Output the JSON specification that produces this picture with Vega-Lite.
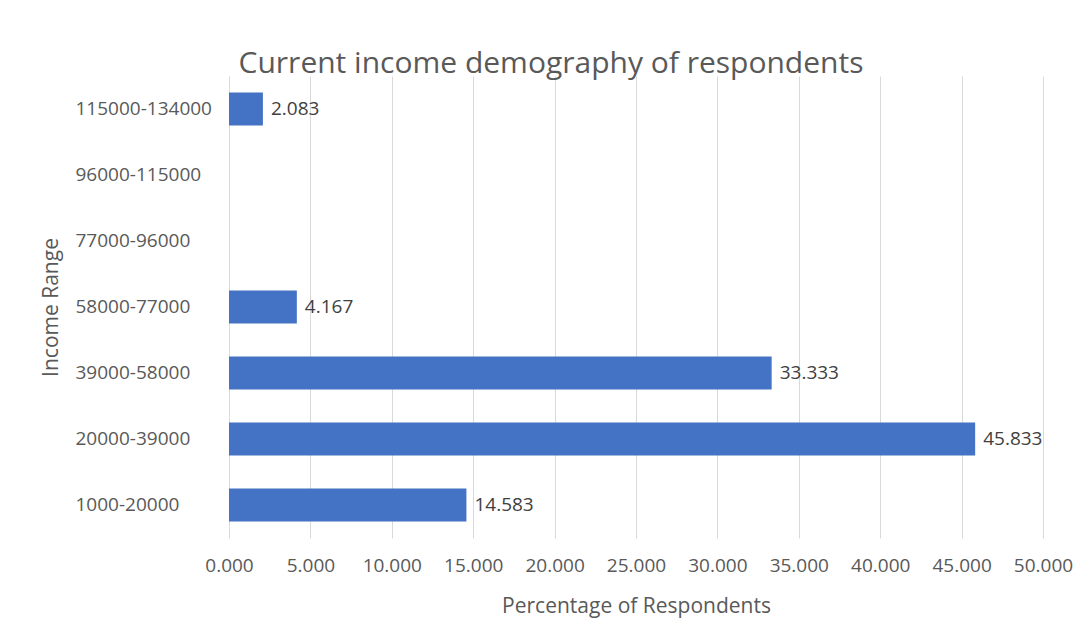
{
  "$schema": "https://vega.github.io/schema/vega-lite/v6.json",
  "autosize": {"type": "none"},
  "padding": {"left": 229, "top": 76, "right": 45, "bottom": 99},
  "width": 814,
  "height": 462,
  "background": "white",
  "title": {
    "text": "Current income demography of respondents",
    "font": "Open Sans",
    "fontSize": 30,
    "fontWeight": "normal",
    "color": "#595959",
    "anchor": "middle",
    "dx": -85,
    "offset": -3
  },
  "data": {
    "values": [
      {"range": "115000-134000", "pct": 2.083},
      {"range": "96000-115000", "pct": 0},
      {"range": "77000-96000", "pct": 0},
      {"range": "58000-77000", "pct": 4.167},
      {"range": "39000-58000", "pct": 33.333},
      {"range": "20000-39000", "pct": 45.833},
      {"range": "1000-20000", "pct": 14.583}
    ]
  },
  "encoding": {
    "y": {
      "field": "range",
      "type": "nominal",
      "sort": ["115000-134000", "96000-115000", "77000-96000", "58000-77000", "39000-58000", "20000-39000", "1000-20000"],
      "scale": {"paddingInner": 0.5, "paddingOuter": 0.25},
      "axis": {
        "title": "Income Range",
        "titleFont": "Open Sans",
        "titleFontSize": 21,
        "titleFontWeight": "normal",
        "titleColor": "#595959",
        "titlePadding": 14,
        "labelFont": "Open Sans",
        "labelFontSize": 19,
        "labelColor": "#595959",
        "labelAlign": "left",
        "labelPadding": 154,
        "ticks": false,
        "domain": false,
        "grid": false
      }
    },
    "x": {
      "field": "pct",
      "type": "quantitative",
      "scale": {"domain": [0, 50]},
      "axis": {
        "title": "Percentage of Respondents",
        "values": [0, 5, 10, 15, 20, 25, 30, 35, 40, 45, 50],
        "format": ".3f",
        "titleFont": "Open Sans",
        "titleFontSize": 21,
        "titleFontWeight": "normal",
        "titleColor": "#595959",
        "titlePadding": 20,
        "labelFont": "Open Sans",
        "labelFontSize": 19,
        "labelColor": "#595959",
        "labelPadding": 18,
        "labelFlush": false,
        "labelOverlap": false,
        "ticks": false,
        "domain": false,
        "grid": true,
        "gridColor": "#d9d9d9",
        "gridWidth": 1
      }
    }
  },
  "layer": [
    {"mark": {"type": "bar", "color": "#4472C4"}},
    {
      "transform": [{"filter": "datum.pct > 0"}],
      "mark": {"type": "text", "align": "left", "dx": 8, "font": "Open Sans", "fontSize": 19, "color": "#404040"},
      "encoding": {"text": {"field": "pct", "type": "quantitative", "format": ".3f"}}
    }
  ],
  "config": {"view": {"stroke": null}}
}
